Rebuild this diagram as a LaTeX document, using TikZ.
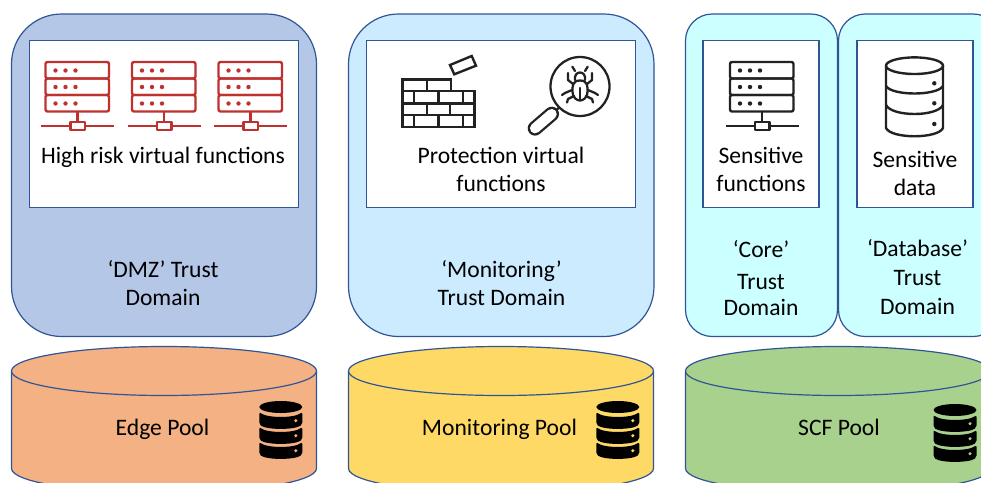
\documentclass[tikz,border=0pt]{standalone}
\usepackage{fontspec}
\setmainfont{Carlito}
\definecolor{edgeline}{HTML}{2F5597}
\definecolor{dmzfill}{HTML}{B4C7E7}
\definecolor{monfill}{HTML}{CCEBFF}
\definecolor{corefill}{HTML}{CCFFFF}
\definecolor{edgepool}{HTML}{F4B183}
\definecolor{monpool}{HTML}{FFD966}
\definecolor{scfpool}{HTML}{A9D18E}
\definecolor{srvred}{HTML}{C0302F}
\definecolor{inkc}{HTML}{222222}
\tikzset{
  x=0.75pt,y=-0.75pt,
  domainbox/.style={draw=edgeline,line width=0.9pt},
  innerbox/.style={draw=edgeline,fill=white,line width=0.8pt,inner sep=0pt,minimum height=125.25pt},
  widebox/.style={innerbox,minimum width=201.75pt},
  narrowbox/.style={innerbox,minimum width=87pt},
  lbl/.style={font=\fontsize{17.7}{21}\selectfont,align=center,text=black,inner sep=0pt},
  pics/server/.style={code={
    \begin{scope}[draw=#1,line width=1.8pt,line join=round]
      \foreach \yy in {62,78.5,95}{
        \draw[rounded corners=1.5pt] (45.5,\yy) rectangle (109,\yy+16.5);
        \foreach \xx in {55.5,65.5,75.5}{\fill[#1] (\xx,\yy+8.5) circle[radius=2.2];}
      }
      \draw (77.5,111.5) -- (77.5,122);
      \draw (41,126) -- (114,126);
      \draw[fill=white] (70.5,122) rectangle (85,130);
    \end{scope}
  }},
  pics/stack/.style={code={
    \fill[black] (21.5,6) ellipse[x radius=21.5,y radius=6];
    \foreach \t/\d in {11/19.7,26/34.7,41/49.7}{
      \fill[black,rounded corners=1.5pt] (0,\t) .. controls (8,\t+6.2) and (35,\t+6.2) .. (43,\t) -- (43,\t+12.5) .. controls (35,\t+18) and (8,\t+18) .. (0,\t+12.5) -- cycle;
      \fill[#1] (36.5,\d) circle[radius=1.7];
    }
  }}
}
\begin{document}
\begin{tikzpicture}
\useasboundingbox (0,0) rectangle (981,482);
\clip (0,0) rectangle (981,482);
% domains
\draw[domainbox,fill=dmzfill,rounded corners=37.5pt] (11.5,14) rectangle (316.5,336.5);
\draw[domainbox,fill=monfill,rounded corners=37.5pt] (348.5,14) rectangle (654,336.5);
\draw[domainbox,fill=corefill,rounded corners=20pt] (685.5,14) rectangle (837.5,336.5);
\draw[domainbox,fill=corefill,rounded corners=20pt] (838.5,14) rectangle (1000,336.5);
% inner boxes
\node[widebox] (dmzbox) at (164,124.3) {};
\node[widebox] (monbox) at (501,124.3) {};
\node[narrowbox] (corebox) at (761,124.3) {};
\node[narrowbox] (dbbox) at (915,124.3) {};
% servers
\pic at (0,0) {server=srvred};
\pic at (86.5,0) {server=srvred};
\pic at (173,0) {server=srvred};
\pic at (684.5,0) {server=inkc};
% firewall
\begin{scope}[draw=inkc,line width=1.8pt]
  \draw (402.3,126.7) -- (402.3,79.3) -- (450.7,79.3) -- (450.7,90.7) -- (474.3,90.7) -- (474.3,126.7) -- cycle;
  \draw (402.3,90.7) -- (450.7,90.7) (402.3,103.3) -- (474.3,103.3) (402.3,115) -- (474.3,115);
  \draw (426.7,79.3) -- (426.7,90.7) (414,90.7) -- (414,103.3) (438.3,90.7) -- (438.3,103.3) (462.7,90.7) -- (462.7,103.3);
  \draw (426.7,103.3) -- (426.7,115) (450,103.3) -- (450,115);
  \draw (414,115) -- (414,126.7) (438.3,115) -- (438.3,126.7) (462.7,115) -- (462.7,126.7);
  \draw (450,65) -- (471.7,56) -- (476,65.7) -- (454.3,74.3) -- cycle;
\end{scope}
% magnifier
\begin{scope}[draw=inkc,line width=1.7pt,line cap=round,line join=round]
  \draw (580,86.5) circle[radius=29.5];
  \draw (559.5,107.5) -- (553.5,112);
  \draw[line width=11pt,draw=inkc] (551.7,114) -- (535,128.3);
  \draw[line width=7.6pt,draw=white] (551.7,114) -- (535,128.3);
  \draw (580,80.5) .. controls (572,80.5) and (572.5,87) .. (572.5,91) .. controls (572.5,98) and (577,100.5) .. (580,100.5) .. controls (583,100.5) and (587.5,98) .. (587.5,91) .. controls (587.5,87) and (588,80.5) .. (580,80.5) -- cycle;
  \draw (580,88) -- (580,100);
  \draw (575,80) .. controls (573.5,70) and (586.5,70) .. (585,80);
  \draw (575,71) -- (572.3,66.7) (585,71) -- (587.7,66.7);
  \draw (573,84) -- (568,80) -- (568,73) (587,84) -- (592,80) -- (592,73);
  \draw (572,90) -- (565,93) -- (562,95) (588,90) -- (595,93) -- (598,95);
  \draw (574,96) -- (568,99) -- (567,102.5) (586,96) -- (592,99) -- (593,102.5);
\end{scope}
% database icon
\begin{scope}[draw=inkc,line width=1.8pt]
  \draw (886,66) -- (886,128) .. controls (891,139) and (938,139) .. (943,128) -- (943,66);
  \draw (914.5,65.7) ellipse[x radius=28.5,y radius=8.3];
  \draw (886,86) .. controls (892,96) and (937,96) .. (943,86);
  \draw (886,105) .. controls (892,117) and (937,117) .. (943,105);
  \foreach \yy in {83.3,103.3,124}{\fill[inkc] (934.3,\yy) circle[radius=2.2];}
\end{scope}
% pools
\newcommand{\poolshape}[2]{%
  \draw[domainbox,fill=#2] (#1,371) -- (#1,468.5) arc[start angle=180,end angle=0,x radius=152.5,y radius=24.5] -- (#1+305,371);
  \draw[domainbox,fill=#2] (#1+152.5,371) ellipse[x radius=152.5,y radius=24.5];
}
\poolshape{11.5}{edgepool}
\poolshape{348.5}{monpool}
\poolshape{685.5}{scfpool}
\pic at (259.3,401) {stack=edgepool};
\pic at (596.3,401) {stack=monpool};
\pic at (933.5,404) {stack=scfpool};
% labels
\node[lbl] (t1) at (163,157) {High risk virtual functions};
\node[lbl] (t2) at (501,169.5) {Protection virtual\\functions};
\node[lbl] (t3) at (761,169.5) {Sensitive\\functions};
\node[lbl] (t4) at (915,173.5) {Sensitive\\data};
\node[lbl] (t5) at (163,283.5) {‘DMZ’ Trust\\Domain};
\node[lbl] (t6) at (501.5,283.5) {‘Monitoring’\\Trust Domain};
\node[lbl] (t7) at (761,278) {‘Core’\\[3pt]Trust\\[-1.5pt]Domain};
\node[lbl] (t8) at (917.5,277) {‘Database’\\[0.8pt]Trust\\[0.8pt]Domain};
\node[lbl] (t9) at (162.5,429.5) {Edge Pool};
\node[lbl] (t10) at (499.5,429.5) {Monitoring Pool};
\node[lbl] (t11) at (839,427.5) {SCF Pool};
\end{tikzpicture}
\end{document}
